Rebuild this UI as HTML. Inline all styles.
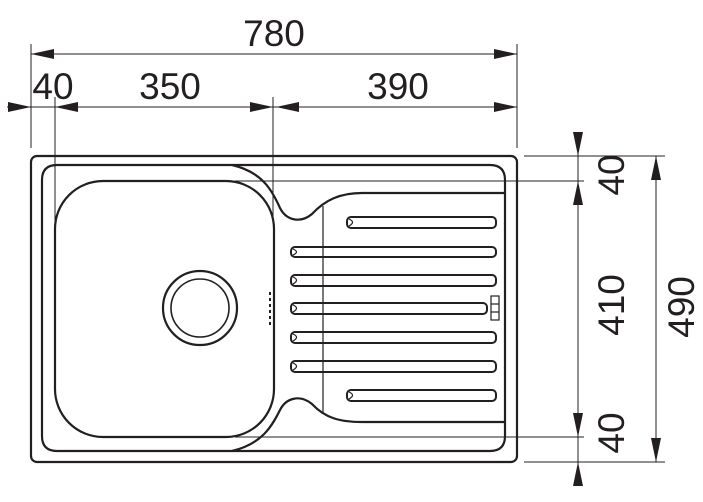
<!DOCTYPE html>
<html><head><meta charset="utf-8"><style>
html,body{margin:0;padding:0;background:#fff;width:703px;height:502px;overflow:hidden}
text{font-family:"Liberation Sans",Arial,sans-serif;font-size:37px;fill:#231f20}
</style></head><body>
<svg width="703" height="502" viewBox="0 0 703 502" xmlns="http://www.w3.org/2000/svg">
<g stroke="#231f20" fill="none">
<!-- extension lines -->
<g stroke-width="1">
<line x1="31" y1="44" x2="31" y2="148"/>
<line x1="517" y1="44" x2="517" y2="148"/>
<line x1="55" y1="97" x2="55" y2="222"/>
<line x1="273" y1="97" x2="273" y2="222"/>
<line x1="524" y1="156" x2="665" y2="156"/>
<line x1="524" y1="462" x2="665" y2="462"/>
<line x1="235" y1="181" x2="584" y2="181"/>
<line x1="235" y1="437" x2="584" y2="437"/>
<line x1="31" y1="54" x2="517" y2="54"/>
<line x1="7" y1="107" x2="517" y2="107"/>
<line x1="578" y1="132" x2="578" y2="486"/>
<line x1="656" y1="156" x2="656" y2="462"/>
</g>
<!-- sink -->
<g stroke-width="2.2">
<rect x="31" y="156" width="486" height="306" rx="6"/>
<path d="M232,165 L57,165 Q42,165 42,180 L42,436 Q42,451 57,451 L232,451"/>
<path d="M505,193 L505,436 Q505,451 490,451 L232,451"/>
<path d="M232,165 L490,165 Q505,165 505,180 L505,193"/>
<rect x="55" y="181" width="219" height="256" rx="48"/>
<circle cx="200" cy="308" r="37"/>
<circle cx="200" cy="308" r="29" stroke-width="1.6"/>
<path d="M232,165 C262,172 272,190 280,208 C286,220 300,224 312,214 C325,200 340,193 362,193 L505,193"/>
<path d="M232,451 C262,444 272,426 280,410 C286,398 300,394 312,404 C325,418 340,422 362,422 L505,422"/>
</g>
<line x1="323" y1="206" x2="323" y2="412" stroke-width="1.2"/>
<g stroke-width="2">
<rect x="347" y="217" width="149" height="11" rx="4"/>
<rect x="291" y="247" width="205" height="10" rx="4"/>
<rect x="291" y="275" width="205" height="11" rx="4"/>
<rect x="291" y="303" width="196" height="11" rx="4"/>
<rect x="291" y="332" width="205" height="11" rx="4"/>
<rect x="291" y="361" width="205" height="11" rx="4"/>
<rect x="347" y="390" width="149" height="11" rx="4"/>
</g>
<g stroke-width="1.2">
<path d="M349,219 Q356,222 349,226"/>
<path d="M293,249 Q300,252 293,255"/>
<path d="M293,277 Q300,280 293,284"/>
<path d="M293,305 Q300,308 293,312"/>
<path d="M293,334 Q300,337 293,341"/>
<path d="M293,363 Q300,366 293,370"/>
<path d="M349,392 Q356,395 349,399"/>
<rect x="491" y="296" width="8" height="24"/>
<line x1="491" y1="304" x2="499" y2="304"/><line x1="491" y1="312" x2="499" y2="312"/>
</g>
<line x1="270" y1="292" x2="270" y2="325" stroke-width="2" stroke-dasharray="3,3"/>
</g>
<!-- arrowheads -->
<g fill="#231f20">
<polygon points="31,54 54,49 54,59"/>
<polygon points="517,54 494,49 494,59"/>
<polygon points="31,107 8,102 8,112"/>
<polygon points="55,107 78,102 78,112"/>
<polygon points="273,107 250,102 250,112"/>
<polygon points="276,107 299,102 299,112"/>
<polygon points="517,107 494,102 494,112"/>
<polygon points="578,156 573,132 583,132"/>
<polygon points="578,181 573,205 583,205"/>
<polygon points="578,437 573,413 583,413"/>
<polygon points="578,462 573,486 583,486"/>
<polygon points="656,156 651,180 661,180"/>
<polygon points="656,462 651,438 661,438"/>
</g>
<text x="274" y="46" text-anchor="middle">780</text>
<text x="53" y="99" text-anchor="middle">40</text>
<text x="170" y="99" text-anchor="middle">350</text>
<text x="398" y="99" text-anchor="middle">390</text>
<text transform="translate(624,175) rotate(-90)" text-anchor="middle">40</text>
<text transform="translate(624,305) rotate(-90)" text-anchor="middle">410</text>
<text transform="translate(624,433) rotate(-90)" text-anchor="middle">40</text>
<text transform="translate(694,307) rotate(-90)" text-anchor="middle">490</text>
</svg>
</body></html>
